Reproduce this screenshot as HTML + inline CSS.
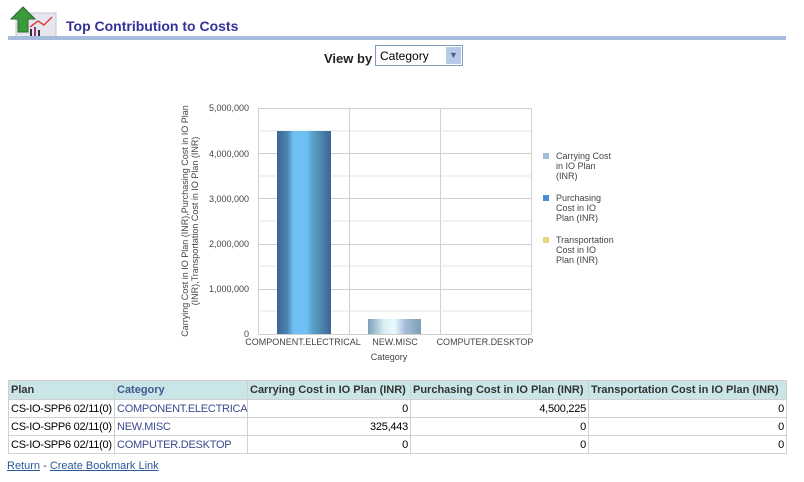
<!DOCTYPE html>
<html><head><style>
body{margin:0;width:804px;height:482px;background:#fff;font-family:"Liberation Sans",Arial,sans-serif;position:relative;overflow:hidden}
.a{position:absolute;white-space:nowrap}
table{position:absolute;left:8px;top:380px;border-collapse:collapse;font-size:11px;width:779px;table-layout:fixed}
td,th{border:1px solid #d0d0d0;padding:0 2px;height:18px;color:#000;white-space:nowrap;overflow:hidden;box-sizing:border-box}
td{letter-spacing:-0.25px}
th{background:#c9e5e7;font-weight:bold;color:#333;text-align:left;font-size:11px;height:19px}
th.c{color:#3c5a8e}
td.l{color:#3c4a8e}
td.r{text-align:right}
</style></head><body>
<svg class="a" style="left:8px;top:5px" width="52" height="34">
<rect x="8" y="8" width="40" height="24" fill="#e6e6ee" stroke="#c4c4d4"/>
<polyline points="22,22 30,16 36,20 44,12" stroke="#e04040" fill="none" stroke-width="1.5"/>
<rect x="22" y="24" width="2" height="7" fill="#333"/><rect x="26" y="22" width="2" height="9" fill="#a03080"/><rect x="30" y="25" width="2" height="6" fill="#333"/>
<polygon points="15,2 3,14 10,14 10,27 20,27 20,14 27,14" fill="#3a9a3a" stroke="#2a6a2a"/>
</svg>
<div class="a" style="left:66px;top:18px;font-size:14px;font-weight:bold;color:#333399">Top Contribution to Costs</div>
<div class="a" style="left:8px;top:36px;width:778px;height:4px;background:#a6bcdc"></div>
<div class="a" style="left:324px;top:51px;font-size:13px;font-weight:bold;color:#222">View by</div>
<div class="a" style="left:375px;top:45px;width:88px;height:21px;border:1px solid #7f9db9;box-sizing:border-box;font-size:12px;padding:3px 0 0 4px">Category
<div style="position:absolute;right:1px;top:1px;width:15px;height:17px;background:#b8c9e8;color:#4d6185;font-size:9px;text-align:center;line-height:17px">&#9660;</div></div>
<svg class="a" style="left:0;top:0" width="804" height="482" font-family="Liberation Sans,Arial,sans-serif">
<defs><linearGradient id="g1" x1="0" x2="1">
<stop offset="0" stop-color="#3e6494"/><stop offset="0.2" stop-color="#4b88b4"/><stop offset="0.3" stop-color="#6fbef4"/><stop offset="0.55" stop-color="#6fbef4"/><stop offset="0.65" stop-color="#5aa4cc"/><stop offset="0.85" stop-color="#4a80aa"/><stop offset="1" stop-color="#3e6494"/></linearGradient>
<linearGradient id="g2" x1="0" x2="1">
<stop offset="0" stop-color="#7a9fb8"/><stop offset="0.3" stop-color="#d8eef2"/><stop offset="0.5" stop-color="#eafaff"/><stop offset="0.7" stop-color="#a6bcdc"/><stop offset="1" stop-color="#7aa0b4"/></linearGradient></defs>
<g stroke="#d0d0d0" stroke-width="1">
<line x1="258" y1="108.5" x2="531" y2="108.5"/><line x1="258" y1="153.5" x2="531" y2="153.5"/><line x1="258" y1="198.5" x2="531" y2="198.5"/><line x1="258" y1="244.5" x2="531" y2="244.5"/><line x1="258" y1="289.5" x2="531" y2="289.5"/><line x1="258" y1="334.5" x2="531" y2="334.5"/>
<line x1="258.5" y1="108" x2="258.5" y2="334"/><line x1="349.5" y1="108" x2="349.5" y2="334"/><line x1="440.5" y1="108" x2="440.5" y2="334"/><line x1="531.5" y1="108" x2="531.5" y2="334"/>
</g>
<g stroke="#e4e4e4"><line x1="258" y1="131" x2="531" y2="131"/><line x1="258" y1="176" x2="531" y2="176"/><line x1="258" y1="221" x2="531" y2="221"/><line x1="258" y1="266" x2="531" y2="266"/><line x1="258" y1="311" x2="531" y2="311"/></g>
<rect x="277" y="131" width="54" height="203" fill="url(#g1)"/>
<rect x="368" y="319" width="53" height="15" fill="url(#g2)"/>
<g font-size="9" fill="#444" text-anchor="end">
<text x="249" y="111">5,000,000</text><text x="249" y="157">4,000,000</text><text x="249" y="202">3,000,000</text><text x="249" y="247">2,000,000</text><text x="249" y="292">1,000,000</text><text x="249" y="337">0</text></g>
<g font-size="9" fill="#444" text-anchor="middle">
<text x="303" y="345">COMPONENT.ELECTRICAL</text><text x="395" y="345">NEW.MISC</text><text x="485" y="345">COMPUTER.DESKTOP</text>
<text x="389" y="360">Category</text>
<text transform="translate(188,221) rotate(-90)">Carrying Cost in IO Plan (INR),Purchasing Cost in IO Plan</text>
<text transform="translate(198,221) rotate(-90)">(INR),Transportation Cost in IO Plan (INR)</text></g>
<g font-size="9" fill="#444">
<rect x="543" y="153" width="6" height="6" fill="#a6bcdc"/><text x="556" y="159">Carrying Cost</text><text x="556" y="169">in IO Plan</text><text x="556" y="179">(INR)</text>
<rect x="543" y="195" width="6" height="6" fill="#4a8ed0"/><text x="556" y="201">Purchasing</text><text x="556" y="211">Cost in IO</text><text x="556" y="221">Plan (INR)</text>
<rect x="543" y="237" width="6" height="6" fill="#ecd484"/><text x="556" y="243">Transportation</text><text x="556" y="253">Cost in IO</text><text x="556" y="263">Plan (INR)</text></g>
</svg>
<table>
<colgroup><col style="width:106px"><col style="width:133px"><col style="width:163px"><col style="width:178px"><col></colgroup>
<tr><th>Plan</th><th class="c">Category</th><th>Carrying Cost in IO Plan (INR)</th><th>Purchasing Cost in IO Plan (INR)</th><th>Transportation Cost in IO Plan (INR)</th></tr>
<tr><td>CS-IO-SPP6 02/11(0)</td><td class="l">COMPONENT.ELECTRICAL</td><td class="r">0</td><td class="r">4,500,225</td><td class="r">0</td></tr>
<tr><td>CS-IO-SPP6 02/11(0)</td><td class="l">NEW.MISC</td><td class="r">325,443</td><td class="r">0</td><td class="r">0</td></tr>
<tr><td>CS-IO-SPP6 02/11(0)</td><td class="l">COMPUTER.DESKTOP</td><td class="r">0</td><td class="r">0</td><td class="r">0</td></tr>
</table>
<div class="a" style="left:7px;top:460px;font-size:11px;color:#333"><span style="color:#2a5a9a;text-decoration:underline">Return</span> - <span style="color:#2a5a9a;text-decoration:underline">Create Bookmark Link</span></div>
</body></html>
